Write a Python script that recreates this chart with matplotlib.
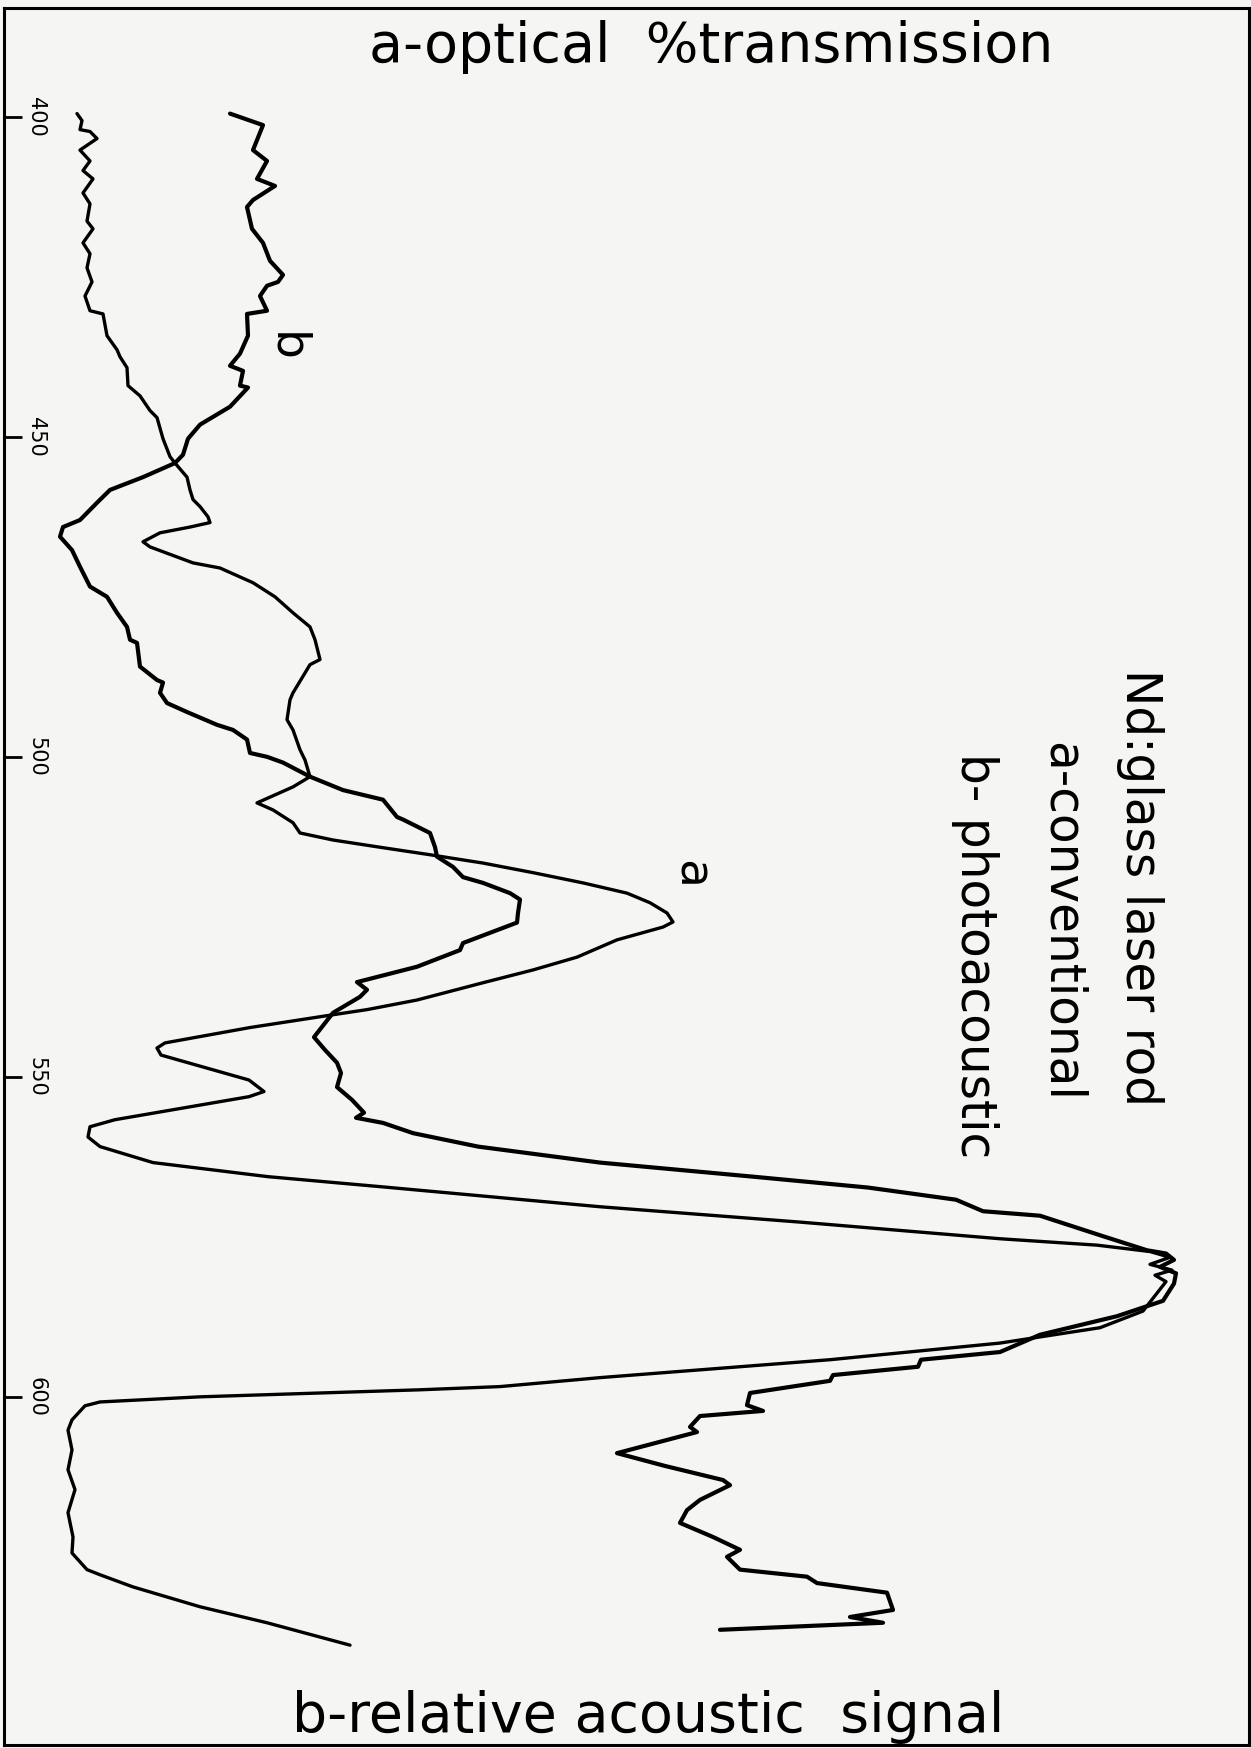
import matplotlib
matplotlib.use("Agg")
import matplotlib.pyplot as plt
from matplotlib.transforms import blended_transform_factory

W, H = 1251, 1748

# curve a: conventional (optical % transmission), wavelength nm vs relative signal
sig_a = [7.7, 8.2, 8.0, 9.0, 9.7, 8.0, 9.0, 8.3, 9.3, 8.3, 9.0, 8.7, 9.3, 8.3, 9.0, 8.7, 9.2, 8.5, 9.0, 10.3,
         10.7, 11.7, 12.0, 12.7, 12.8, 14.0, 15.0, 15.7, 16.3, 17.0, 17.5,
         18.7, 19.0, 19.3, 20.0, 20.8, 21.0, 19.0, 16.0, 14.3, 15.0, 19.3, 22.0, 25.3, 27.5, 29.3, 31.0, 31.5,
         32.0, 31.0, 29.3, 29.0, 28.7, 29.3, 30.0, 30.5, 31.0,
         29.3, 25.7, 27.3, 29.3, 30.0, 33.3, 38.3, 43.0, 48.3, 53.3, 58.3, 62.7, 65.0, 66.7, 67.3, 66.3, 61.7,
         57.7, 53.3, 48.3, 41.7, 36.7, 33.3,
         25.0, 16.5, 15.7, 16.1, 24.9, 26.4, 24.9, 11.5, 9.0, 8.8, 10.0, 15.3, 26.8, 38.3, 60.0, 80.0, 100.0,
         109.7, 115.0, 117.0, 115.0, 117.2, 115.5, 116.6, 114.3, 110.0, 100.0, 83.0, 60.0, 50.0, 42.0, 20.0,
         10.0, 8.5, 7.2, 6.8, 7.2, 6.8, 7.5, 6.8, 7.3, 7.2, 8.7, 10.0, 13.3, 20.0, 26.7, 35.0]
wl_a = [399.5, 400.6, 402.0, 402.3, 403.4, 405.2, 406.9, 408.4, 409.7, 411.9, 413.6, 416.3, 417.5, 419.7, 421.4,
        423.6, 425.8, 428.0, 430.3, 430.8, 434.2, 436.4, 437.5, 439.2, 442.0, 443.6, 445.9, 447.0, 450.3, 453.1,
        454.1,
        456.3, 458.3, 459.8, 460.9, 462.5, 463.4, 464.1, 465.0, 466.4, 467.2, 469.7, 470.5, 472.8, 475.0, 477.5,
        479.7, 481.7, 484.8, 485.6, 490.0, 491.1, 494.2, 495.8, 498.9, 500.5, 503.1,
        504.7, 507.2, 508.3, 510.3, 511.9, 513.0, 514.2, 515.3, 516.6, 518.1, 519.7, 521.3, 522.8, 524.4, 525.8,
        526.6, 528.6, 531.3, 533.3, 535.3, 538.0, 539.5, 540.3,
        542.3, 544.7, 545.5, 546.6, 550.5, 552.3, 553.1, 556.7, 557.8, 559.4, 560.9, 563.4, 565.6, 567.2, 570.3,
        572.7, 575.3, 576.3, 577.3, 578.2, 579.3, 580.2, 581.0, 582.0, 586.6, 589.2, 591.6, 594.2, 597.0, 598.4,
        598.9, 600.0, 600.8, 601.4, 603.6, 605.2, 608.3, 611.4, 614.5, 618.1, 621.9, 624.4, 627.0, 627.8, 629.7,
        632.8, 635.3, 638.8]

# curve b: photoacoustic (relative acoustic signal)
sig_b = [23.0, 25.0, 26.3, 25.3, 26.7, 25.7, 27.5, 25.3, 24.7, 25.2, 26.3, 27.0, 28.3, 27.8, 26.7, 26.0, 26.7,
         24.7, 24.8, 24.0, 23.0, 24.3, 24.0, 24.8, 23.0, 20.0, 18.8, 18.3, 17.5,
         14.3, 11.0, 9.7, 8.0, 6.3, 6.0, 7.2, 8.0, 9.0, 10.7, 11.7, 12.7, 13.0, 13.7, 14.0, 15.7, 16.3, 16.0,
         16.7, 18.7, 21.7, 23.3, 24.7, 25.0, 26.7, 28.3, 31.0,
         34.3, 38.3, 39.7, 40.3, 43.0, 43.5, 43.7, 45.3, 46.3, 48.3, 51.0, 52.0, 51.8, 51.7, 49.0, 46.3, 46.0,
         41.7, 35.7, 36.7, 36.0, 33.3,
         31.4, 32.5, 33.7, 34.1, 33.7, 35.2, 36.4, 35.6, 38.3, 41.3, 47.8, 60.0, 75.3, 86.8, 95.6, 98.3, 104.0,
         110.1, 114.7, 116.6, 117.4, 116.0, 117.6, 117.4, 116.3, 111.7, 104.0, 100.0, 92.1, 91.8, 83.3, 83.0,
         75.0, 74.7, 76.3, 70.0, 69.0, 69.7, 61.7, 66.5, 72.3, 73.0, 70.0, 68.7, 68.0, 71.3, 74.0, 72.7, 74.0,
         80.7, 81.7, 88.7, 89.3, 85.0, 88.3, 72.0]
wl_b = [399.5, 400.6, 401.3, 405.2, 406.9, 409.7, 410.8, 413.0, 414.1, 417.5, 419.7, 422.5, 424.7, 425.8, 426.4,
        428.0, 430.3, 430.8, 434.2, 437.0, 438.9, 439.7, 442.0, 442.3, 445.3, 448.1, 450.3, 452.8, 454.1,
        456.3, 458.3, 460.3, 463.0, 464.1, 465.6, 467.7, 470.3, 473.4, 475.0, 477.5, 479.7, 481.7, 482.2, 485.9,
        488.0, 488.4, 490.0, 491.6, 493.0, 495.0, 495.8, 497.3, 499.4, 500.0, 500.9, 503.1,
        505.2, 506.7, 509.4, 509.8, 511.9, 514.1, 515.6, 517.2, 518.8, 519.7, 521.3, 522.3, 524.4, 525.9, 527.5,
        529.1, 530.2, 532.8, 535.2, 536.4, 537.5, 540.0,
        543.8, 545.8, 547.8, 549.4, 551.6, 553.6, 555.6, 556.4, 557.2, 558.8, 560.9, 563.4, 565.6, 567.3, 569.2,
        571.0, 571.7, 574.8, 577.1, 577.6, 578.6, 579.7, 580.7, 582.3, 585.0, 587.4, 590.3, 593.0, 594.2, 595.3,
        596.6, 597.5, 599.4, 601.3, 602.2, 603.0, 604.7, 605.5, 608.8, 610.8, 613.0, 613.8, 616.1, 617.7, 619.7,
        621.9, 623.9, 625.0, 627.0, 628.1, 629.1, 630.6, 633.3, 634.4, 635.3, 636.4]

wl_ticks = [400, 450, 500, 550, 600]

bg = "#f5f5f3"
fig = plt.figure(figsize=(W / 100, H / 100), dpi=100, facecolor=bg)
# axes frame = the drawn border of the sheet
ax = fig.add_axes([4 / W, 1 - 1745 / H, 1245 / W, 1737 / H], facecolor=bg)

ax.plot(sig_a, wl_a, color="black", lw=2.4, solid_joinstyle="round", solid_capstyle="round")
ax.plot(sig_b, wl_b, color="black", lw=3.0, solid_joinstyle="round", solid_capstyle="round")

ax.set_xlim(0.4, 124.9)
ax.set_ylim(654.4, 383.0)
ax.set_xticks([])
ax.set_yticks(wl_ticks)
ax.tick_params(axis="y", direction="in", length=13, width=2.0, labelleft=False)
for s in ax.spines.values():
    s.set_linewidth(2.2)

trans = blended_transform_factory(ax.transAxes, ax.transData)
for t in wl_ticks:
    ax.text(0.0209, t, str(t), transform=trans, rotation=-90, rotation_mode="anchor",
            ha="center", va="baseline", fontsize=15, family="DejaVu Sans")

fig.text(711 / W, 1 - 62 / H, "a-optical  %transmission", ha="center", va="baseline",
         fontsize=40, family="DejaVu Sans")
fig.text(648 / W, 1 - 1732 / H, "b-relative acoustic  signal", ha="center", va="baseline",
         fontsize=40, family="DejaVu Sans")

legend_lines = [("Nd:glass laser rod", 1126, 669),
                ("a-conventional", 1048, 742),
                ("b- photoacoustic", 961, 753)]
for txt, px, py in legend_lines:
    fig.text(px / W, 1 - py / H, txt, rotation=-90, rotation_mode="anchor",
             ha="left", va="baseline", fontsize=35, family="DejaVu Sans")

# curve labels
fig.text(273 / W, 1 - 347 / H, "b", rotation=-90, rotation_mode="anchor",
         ha="center", va="baseline", fontsize=34, family="DejaVu Sans")
fig.text(678 / W, 1 - 875 / H, "a", rotation=-90, rotation_mode="anchor",
         ha="center", va="baseline", fontsize=34, family="DejaVu Sans")

fig.savefig("out.png", dpi=100, facecolor=bg)
